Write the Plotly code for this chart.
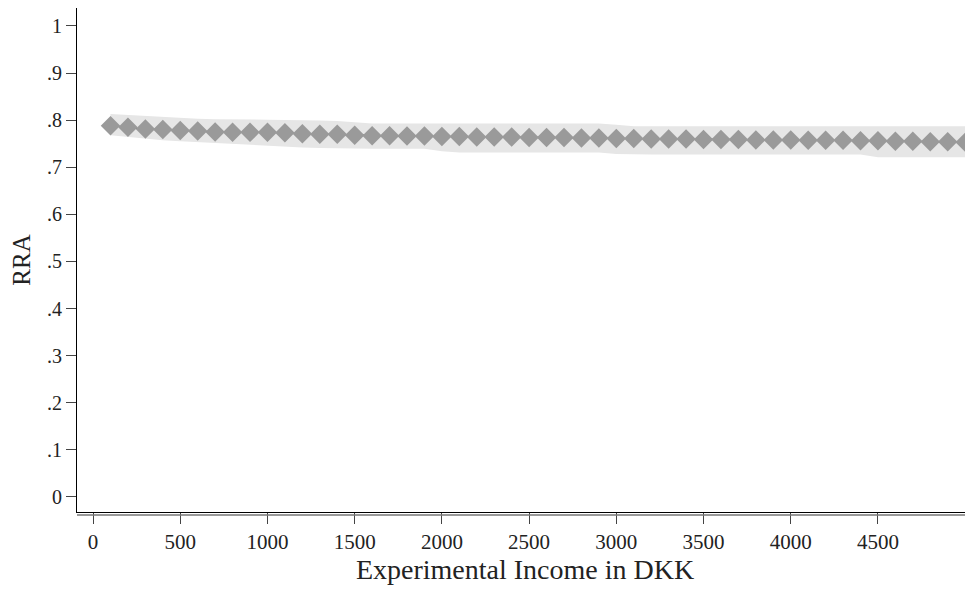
import plotly.graph_objects as go

income = list(range(100, 5001, 100))
rra = [0.788, 0.785, 0.781, 0.780, 0.778, 0.777, 0.775, 0.774, 0.774, 0.774,
       0.773, 0.771, 0.770, 0.770, 0.768, 0.767, 0.767, 0.766, 0.766, 0.765,
       0.765, 0.764, 0.764, 0.764, 0.763, 0.763, 0.763, 0.762, 0.762, 0.761,
       0.761, 0.760, 0.760, 0.760, 0.759, 0.759, 0.759, 0.758, 0.758, 0.758,
       0.757, 0.757, 0.757, 0.756, 0.756, 0.755, 0.755, 0.754, 0.754, 0.753]
ci_upper = [0.813, 0.811, 0.808, 0.806, 0.804, 0.803, 0.802, 0.802, 0.801, 0.801,
            0.800, 0.800, 0.799, 0.798, 0.795, 0.793, 0.793, 0.793, 0.793, 0.793,
            0.793, 0.793, 0.793, 0.793, 0.793, 0.793, 0.793, 0.793, 0.793, 0.790,
            0.787, 0.787, 0.787, 0.787, 0.787, 0.787, 0.787, 0.787, 0.787, 0.787,
            0.787, 0.787, 0.787, 0.787, 0.787, 0.787, 0.787, 0.787, 0.787, 0.787]
ci_lower = [0.768, 0.764, 0.760, 0.757, 0.755, 0.753, 0.752, 0.750, 0.748, 0.746,
            0.744, 0.742, 0.741, 0.740, 0.739, 0.739, 0.739, 0.739, 0.739, 0.734,
            0.731, 0.731, 0.731, 0.731, 0.731, 0.731, 0.731, 0.731, 0.731, 0.728,
            0.727, 0.727, 0.727, 0.727, 0.727, 0.727, 0.727, 0.727, 0.727, 0.727,
            0.727, 0.727, 0.727, 0.727, 0.721, 0.721, 0.721, 0.721, 0.721, 0.721]

x_ticks = list(range(0, 4501, 500))
y_ticks = [0, 0.1, 0.2, 0.3, 0.4, 0.5, 0.6, 0.7, 0.8, 0.9, 1]
y_labels = ["0", ".1", ".2", ".3", ".4", ".5", ".6", ".7", ".8", ".9", "1"]

FONT = "Liberation Serif"

fig = go.Figure()
fig.add_trace(go.Scatter(x=income, y=ci_upper, mode="lines", line=dict(width=0),
                         showlegend=False, hoverinfo="skip"))
fig.add_trace(go.Scatter(x=income, y=ci_lower, mode="lines", line=dict(width=0),
                         fill="tonexty", fillcolor="#e6e6e6",
                         showlegend=False, hoverinfo="skip"))
fig.add_trace(go.Scatter(x=income, y=rra, mode="lines",
                         line=dict(color="black", width=1, dash="dot"),
                         showlegend=False))
fig.add_trace(go.Scatter(x=income, y=rra, mode="markers",
                         marker=dict(symbol="diamond", size=15, color="#9a9a9a",
                                     line=dict(width=0)),
                         showlegend=False))

fig.update_layout(
    width=965, height=581,
    margin=dict(l=69, r=0, t=0, b=77),
    paper_bgcolor="white", plot_bgcolor="white",
    font=dict(family=FONT, color="#222222"),
    xaxis=dict(range=[-92, 5045], tickvals=x_ticks, ticktext=[str(v) for v in x_ticks],
               showgrid=False, zeroline=False, showline=True, mirror=True,
               linecolor="black", linewidth=1, ticks="outside", ticklen=11,
               tickcolor="#444444", tickwidth=1, tickfont=dict(size=21, family=FONT),
               title=dict(text="Experimental Income in DKK", font=dict(size=28, family=FONT),
                          standoff=0)),
    yaxis=dict(range=[-0.032, 1.038], tickvals=y_ticks, ticktext=y_labels,
               showgrid=False, zeroline=False, showline=True, mirror=False,
               linecolor="black", linewidth=1, ticks="outside", ticklen=10,
               tickcolor="#444444", tickwidth=1, tickfont=dict(size=20, family=FONT),
               title=dict(text="RRA", font=dict(size=25, family=FONT), standoff=12)),
)
fig.add_shape(type="line", xref="x domain", yref="y domain", x0=0, x1=1, y0=-0.006, y1=-0.006,
              line=dict(color="#777777", width=1.5))
fig.write_html("out.html")
